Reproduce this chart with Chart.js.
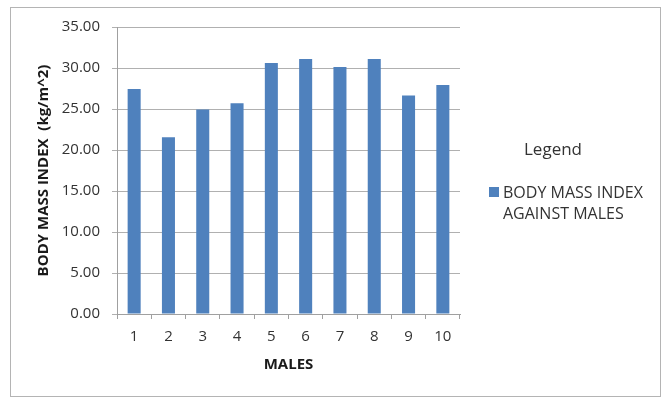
<!DOCTYPE html>
<html>
<head>
<meta charset="utf-8">
<script src="https://cdn.jsdelivr.net/npm/chart.js@4.4.0/dist/chart.umd.min.js"></script>
<style>
  html, body { margin: 0; padding: 0; background: #fff; }
  #wrap { width: 664px; height: 398px; }
</style>
</head>
<body>
<div id="wrap"><canvas id="c" width="664" height="398"></canvas></div>
<script>
// Subjects on the x axis
const males = ['1', '2', '3', '4', '5', '6', '7', '8', '9', '10'];
// Body mass index per subject (kg/m^2)
const bmi = [27.45, 21.55, 24.95, 25.70, 30.62, 31.10, 30.13, 31.10, 26.65, 27.94];
// Value axis range and step
const yMin = 0;
const yMax = 35;
const yStep = 5;
// Text
const seriesLabelLines = ['BODY MASS INDEX', 'AGAINST MALES'];
const legendTitle = 'Legend';
const xTitle = 'MALES';
const yTitle = 'BODY MASS INDEX  (kg/m^2)';

const BAR = '#4F81BD';
const FONT = '"Open Sans", "Liberation Sans", sans-serif';

// White background and outer frame
const framePlugin = {
  id: 'frame',
  beforeDraw(chart) {
    const ctx = chart.ctx;
    ctx.save();
    ctx.fillStyle = '#fff';
    ctx.fillRect(0, 0, chart.width, chart.height);
    ctx.strokeStyle = '#b4b4b4';
    ctx.lineWidth = 1;
    ctx.strokeRect(10.5, 7.5, 650, 389);
    ctx.restore();
  }
};

// Legend box on the right with a wrapped series label
const sideLegendPlugin = {
  id: 'sideLegend',
  afterDraw(chart) {
    const ctx = chart.ctx;
    const ds = chart.data.datasets[0];
    ctx.save();
    ctx.fillStyle = '#333';
    ctx.font = '17px ' + FONT;
    ctx.textAlign = 'center';
    ctx.textBaseline = 'middle';
    ctx.fillText(legendTitle, 553, 150);

    ctx.fillStyle = ds.backgroundColor;
    ctx.fillRect(489, 187, 10, 10);

    ctx.fillStyle = '#333';
    ctx.font = '16px ' + FONT;
    ctx.textAlign = 'left';
    ctx.textBaseline = 'alphabetic';
    seriesLabelLines.forEach((line, i) => {
      ctx.fillText(line, 503, 198 + i * 21);
    });
    ctx.restore();
  }
};

new Chart(document.getElementById('c'), {
  type: 'bar',
  data: {
    labels: males,
    datasets: [{
      label: seriesLabelLines.join(' '),
      data: bmi,
      backgroundColor: BAR,
      borderWidth: 0,
      barPercentage: 0.76,
      categoryPercentage: 0.5
    }]
  },
  options: {
    responsive: false,
    animation: false,
    layout: { padding: { left: 0, top: 27, right: 204, bottom: 0 } },
    plugins: {
      legend: { display: false },
      tooltip: { enabled: false }
    },
    scales: {
      x: {
        grid: {
          drawOnChartArea: false,
          drawTicks: true,
          tickLength: 5,
          color: '#a0a0a0'
        },
        border: { color: '#a0a0a0' },
        ticks: {
          color: '#333',
          font: { family: FONT, size: 15 },
          padding: 9,
          maxRotation: 0
        },
        title: {
          display: true,
          text: xTitle,
          color: '#1a1a1a',
          font: { family: FONT, size: 15, weight: 'bold' },
          padding: { top: 0, bottom: 24 }
        },
        afterFit(scale) { scale.height = 84; }
      },
      y: {
        min: yMin,
        max: yMax,
        grid: {
          color: '#b0b0b0',
          tickLength: 5
        },
        border: { color: '#a0a0a0' },
        ticks: {
          stepSize: yStep,
          color: '#333',
          font: { family: FONT, size: 15 },
          padding: 12,
          callback: v => Number(v).toFixed(2)
        },
        title: {
          display: true,
          text: yTitle,
          color: '#1a1a1a',
          font: { family: FONT, size: 15, weight: 'bold' },
          padding: { top: 35, bottom: 0 }
        },
        afterFit(scale) { scale.width = 117; }
      }
    }
  },
  plugins: [framePlugin, sideLegendPlugin]
});
</script>
</body>
</html>
